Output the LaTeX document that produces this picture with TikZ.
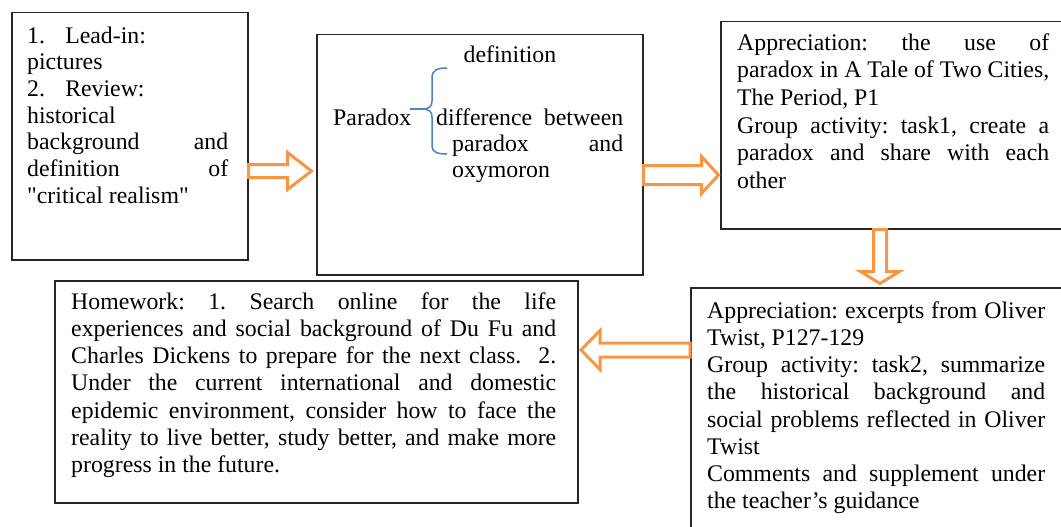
\documentclass[tikz,border=0pt]{standalone}
\usepackage{fontspec}
\setmainfont{Liberation Serif}[Ligatures=TeXOff]
\usetikzlibrary{positioning,calc}

\definecolor{arrorange}{HTML}{F79646}
\definecolor{braceblue}{HTML}{4F81BD}
\setlength{\parindent}{0pt}
\hyphenpenalty=10000
\frenchspacing
\newcommand{\planfont}[1][27.2]{\fontsize{23.8}{#1}\selectfont}

\tikzset{
  arr len/.store in=\arrlen, arr shaft/.store in=\arrshaft,
  arr head/.store in=\arrhead, arr tip/.store in=\arrtip,
  arr len=60, arr shaft=7, arr head=19, arr tip=20,
  hollow arrow/.pic={
    \draw[draw=arrorange,fill=white,line width=3pt]
      (0,-\arrshaft) -- (\arrlen-\arrtip,-\arrshaft) -- (\arrlen-\arrtip,-\arrhead)
      -- (\arrlen,0) -- (\arrlen-\arrtip,\arrhead) -- (\arrlen-\arrtip,\arrshaft)
      -- (0,\arrshaft) -- cycle;}
}

\begin{document}
\begin{tikzpicture}[
  x=1pt,y=1pt,
  frame/.style={draw=black!85,line width=1.5pt,inner sep=0pt,anchor=north west},
  txt/.style={inner sep=0pt,align=justify,font=\planfont},
  lbl/.style={inner sep=0pt,font=\planfont},
  brace/.style={draw=braceblue,line width=1.5pt}]
\useasboundingbox (0,0) rectangle (1061,-527);
\fill[white] (0,0) rectangle (1061,-527);
\clip (0,0) rectangle (1061,-527);

% boxes
\node[frame,minimum width=236pt,minimum height=247pt] (lead) at (11,-12) {};
\node[frame,minimum width=326pt,minimum height=240pt] (defn) at (316,-34) {};
\node[frame,minimum width=360pt,minimum height=207pt] (app1) at (720,-21) {};
\node[frame,minimum width=390pt,minimum height=260pt] (oliver) at (690,-287) {};
\node[frame,minimum width=523pt,minimum height=222pt] (home) at (54,-280) {};

% texts
\node[txt,text width=201pt,font={\planfont[26.7]},below right=12.3pt and 16pt of lead.north west] (leadtxt)
  {\strut 1.\hspace{0.85em}Lead-in:\\ pictures\\ 2.\hspace{0.85em}Review:\\ historical\\
   background and\linebreak definition of\linebreak "critical realism"};

\node[lbl,anchor=base] (defword) at ($(defn.north west)+(194,-29)$) {definition};
\node[lbl,anchor=base west] (para) at ($(defn.north west)+(17,-91)$) {Paradox};
\node[txt,text width=187pt,font={\planfont[26.3]},anchor=north west] (difftxt) at ($(defn.north west)+(120,-72.6)$)
  {\strut difference between\linebreak\hspace*{16pt}paradox and\linebreak\hspace*{16pt}oxymoron};

\node[txt,text width=312pt,font={\planfont[27.7]},below right=9.6pt and 17pt of app1.north west] (app1txt)
  {\strut Appreciation: the use of\linebreak paradox in A Tale of Two Cities,\linebreak The Period, P1\\
   Group activity: task1, create a\linebreak paradox and share with each\linebreak other};

\node[txt,text width=338pt,below right=12pt and 17pt of oliver.north west] (olivertxt)
  {\strut Appreciation: excerpts from Oliver\linebreak Twist, P127-129\\
   Group activity: task2, summarize\linebreak the historical background and\linebreak
   social problems reflected in Oliver\linebreak Twist\\
   Comments and supplement under\linebreak the teacher’s guidance};

\node[txt,text width=485pt,below right=10pt and 17pt of home.north west] (hometxt)
  {\strut Homework: 1. Search online for the life\linebreak
   experiences and social background of Du Fu and\linebreak
   Charles Dickens to prepare for the next class.\ \ 2.\linebreak
   Under the current international and domestic\linebreak
   epidemic environment, consider how to face the\linebreak
   reality to live better, study better, and make more\linebreak
   progress in the future.};

% brace
\draw[brace] (447,-68) .. controls (437,-68) and (432,-70) .. (432,-78) -- (432,-101)
  .. controls (432,-107) and (429,-109) .. (421,-109) -- (410,-109);
\draw[brace] (421,-109) .. controls (429,-109) and (432,-111) .. (432,-117) -- (432,-146)
  .. controls (432,-152) and (437,-154) .. (447,-154);

% block arrows
\pic[arr len=63,arr shaft=6.5,arr head=18.5,arr tip=24] at (lead.east |- 0,-171) {hollow arrow};
\pic[arr len=75,arr shaft=9.5,arr head=18.5,arr tip=17] at (defn.east |- 0,-175) {hollow arrow};
\pic[rotate=-90,arr len=54,arr shaft=6.5,arr head=19.5,arr tip=12] at (app1.south -| 880,0) {hollow arrow};
\pic[rotate=180,arr len=109,arr shaft=7,arr head=19.5,arr tip=19] at (oliver.west |- 0,-350) {hollow arrow};
\end{tikzpicture}
\end{document}
